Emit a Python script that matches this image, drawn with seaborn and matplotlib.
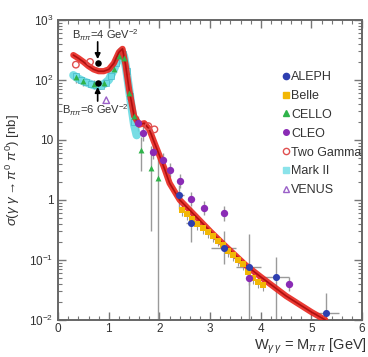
import numpy as np
import pandas as pd
import matplotlib
matplotlib.use("Agg")
import matplotlib.pyplot as plt
from matplotlib.lines import Line2D
from matplotlib.ticker import FixedLocator, FixedFormatter, LogLocator, MultipleLocator
import seaborn as sns

sns.set_style("ticks")
plt.rcParams['font.family'] = ['Liberation Sans', 'DejaVu Sans']
plt.rcParams['mathtext.fontset'] = 'custom'
plt.rcParams['mathtext.rm'] = 'Liberation Sans'
plt.rcParams['mathtext.it'] = 'Liberation Sans:italic'
plt.rcParams['mathtext.bf'] = 'Liberation Sans:bold'

# ---- data ----
red_x = [0.3, 0.4, 0.5, 0.6, 0.7, 0.8, 0.9, 1.0, 1.1, 1.2, 1.27, 1.33, 1.4, 1.5, 1.6, 1.7,
         1.8, 1.9, 2.0, 2.1, 2.2, 2.4, 2.7, 3.0, 3.3, 3.7, 4.0, 4.5, 5.0, 5.27]
red_y = [260, 230, 200, 170, 150, 140, 140, 150, 190, 290, 330, 180, 70, 25, 18, 19,
         15, 9, 5.5, 3.3, 1.9, 1.0, 0.55, 0.3, 0.17, 0.082, 0.052, 0.025, 0.0135, 0.01]

cyan_x = [0.3, 0.4, 0.5, 0.6, 0.7, 0.8, 0.9, 1.0, 1.1, 1.2, 1.25, 1.3, 1.35, 1.4, 1.45, 1.5, 1.55]
cyan_y = [120, 105, 95, 88, 82, 80, 85, 100, 150, 240, 300, 250, 140, 70, 35, 18, 12]

aleph_x = [2.39, 2.62, 3.27, 3.76, 4.30, 5.29]
aleph_y = [1.2, 0.41, 0.16, 0.076, 0.052, 0.013]
aleph_lo = [0.7, 0.2, 0.085, 0.0095, 0.0095, 0.0095]
aleph_hi = [1.8, 0.75, 0.3, 0.27, 0.11, 0.028]
aleph_xerr = [0.1, 0.1, 0.25, 0.25, 0.25, 0.25]

belle_x = [2.45, 2.55, 2.65, 2.75, 2.85, 2.95, 3.05, 3.15, 3.25, 3.35, 3.45, 3.55,
           3.65, 3.75, 3.85, 3.95, 4.05]
belle_y = [0.68, 0.58, 0.48, 0.40, 0.34, 0.29, 0.25, 0.21, 0.18, 0.14, 0.12, 0.10,
           0.085, 0.062, 0.05, 0.042, 0.038]

cello_x = [0.35, 0.5, 0.7, 0.9, 1.1, 1.2, 1.3, 1.4, 1.5, 1.64, 1.84, 1.97]
cello_y = [110, 95, 85, 90, 150, 250, 230, 60, 25, 6.8, 3.4, 2.3]
cello_lo = [90, 80, 70, 75, 125, 210, 190, 45, 18, 3.0, 0.3, 0.0095]
cello_hi = [130, 110, 100, 105, 175, 290, 270, 75, 32, 11, 8, 5]

cleo_x = [1.57, 1.67, 1.87, 2.06, 2.2, 2.4, 2.62, 2.88, 3.27, 3.76, 4.55]
cleo_y = [19, 13, 6.3, 4.6, 3.2, 2.1, 1.05, 0.74, 0.6, 0.05, 0.04]

tg_x = [0.35, 0.63, 1.78, 1.9]
tg_y = [180, 200, 17, 15]

mark2_x = [0.35, 0.45, 0.55, 0.65, 0.75, 0.85, 0.95, 1.05, 1.15, 1.22, 1.28, 1.35, 1.42, 1.5]
mark2_y = [115, 100, 92, 86, 82, 80, 90, 115, 190, 280, 270, 140, 55, 20]

venus_x = [0.95]
venus_y = [46]

b_x = [0.78, 0.78]
b_y = [190, 89]

labels = ["ALEPH", "Belle", "CELLO", "CLEO", "Two Gamma", "Mark II", "VENUS"]

# ---- figure ----
fig = plt.figure(figsize=(3.68, 3.57), dpi=100)
ax = fig.add_axes([0.158, 0.104, 0.826, 0.840])
ax.set_yscale("log")

gray = "#9a9a9a"
# error bars
ax.errorbar(aleph_x, aleph_y,
            yerr=[np.array(aleph_y) - np.array(aleph_lo), np.array(aleph_hi) - np.array(aleph_y)],
            xerr=aleph_xerr, fmt="none", ecolor=gray, elinewidth=1.0, zorder=1)
ax.errorbar(cello_x, cello_y,
            yerr=[np.array(cello_y) - np.array(cello_lo), np.array(cello_hi) - np.array(cello_y)],
            fmt="none", ecolor=gray, elinewidth=1.0, zorder=1)
ax.errorbar(cleo_x, cleo_y, yerr=[np.array(cleo_y) * 0.25, np.array(cleo_y) * 0.3],
            fmt="none", ecolor=gray, elinewidth=1.0, zorder=1)
ax.errorbar(belle_x, belle_y, yerr=[np.array(belle_y) * 0.2, np.array(belle_y) * 0.2],
            fmt="none", ecolor=gray, elinewidth=0.8, zorder=1)

# bands
sns.lineplot(x=cyan_x, y=cyan_y, ax=ax, color="#5fd8e0", lw=6, alpha=0.85, zorder=2)
sns.lineplot(x=red_x, y=red_y, ax=ax, color="#e8261e", lw=4.5, alpha=0.9, zorder=4)
sns.lineplot(x=red_x, y=red_y, ax=ax, color="#b01010", lw=1.2, zorder=5)

# markers
sns.scatterplot(x=mark2_x, y=mark2_y, ax=ax, color="#70dde6", marker="s", s=18, edgecolor="#3ab0c0", linewidth=0.4, zorder=3)
sns.scatterplot(x=cello_x, y=cello_y, ax=ax, color="#2fb34a", marker="^", s=18, linewidth=0, zorder=6)
sns.scatterplot(x=belle_x, y=belle_y, ax=ax, color="#f2b705", marker="s", s=14, linewidth=0, zorder=6)
sns.scatterplot(x=cleo_x, y=cleo_y, ax=ax, color="#8a2bb5", marker="o", s=28, linewidth=0, zorder=6)
sns.scatterplot(x=aleph_x, y=aleph_y, ax=ax, color="#2e3fb0", marker="o", s=26, linewidth=0, zorder=6)
sns.scatterplot(x=tg_x, y=tg_y, ax=ax, facecolor="none", edgecolor="#e05050", marker="o", s=22, linewidth=1.0, zorder=6)
sns.scatterplot(x=venus_x, y=venus_y, ax=ax, facecolor="none", edgecolor="#9a60c8", marker="^", s=22, linewidth=1.0, zorder=6)
sns.scatterplot(x=b_x, y=b_y, ax=ax, color="black", marker="o", s=22, linewidth=0, zorder=7)

# annotations
ax.annotate("", xy=(0.78, 200), xytext=(0.78, 480),
            arrowprops=dict(arrowstyle="-|>", color="black", lw=1.2, mutation_scale=8), zorder=8)
ax.annotate("", xy=(0.78, 85), xytext=(0.78, 40),
            arrowprops=dict(arrowstyle="-|>", color="black", lw=1.2, mutation_scale=8), zorder=8)
ax.text(0.28, 560, r"B$_{\pi\pi}$=4 GeV$^{-2}$", fontsize=8, color="#333333", va="center")
ax.text(0.08, 31, r"B$_{\pi\pi}$=6 GeV$^{-2}$", fontsize=8, color="#333333", va="center")

# axes
ax.set_xlim(0, 6)
ax.set_ylim(0.01, 1000)
ax.xaxis.set_major_locator(MultipleLocator(1))
ax.xaxis.set_minor_locator(MultipleLocator(0.2))
yt = [0.01, 0.1, 1, 10, 100, 1000]
ax.yaxis.set_major_locator(FixedLocator(yt))
ax.yaxis.set_major_formatter(FixedFormatter([r"$10^{-2}$", r"$10^{-1}$", "1", "10", r"$10^{2}$", r"$10^{3}$"]))
ax.yaxis.set_minor_locator(LogLocator(base=10, subs=np.arange(2, 10), numticks=20))
ax.tick_params(which="both", direction="in", top=True, right=True, colors="#777777",
               labelcolor="#333333", labelsize=8.5)
ax.tick_params(which="major", length=6, width=1.0)
ax.tick_params(which="minor", length=3, width=0.8)
ax.tick_params(axis="x", pad=2)
for s in ax.spines.values():
    s.set_color("#666666")
    s.set_linewidth(1.4)

ax.set_xlabel("")
ax.set_ylabel(r"$\sigma(\gamma\ \gamma \rightarrow \pi^{0}\ \pi^{0})$ [nb]", fontsize=9.5, color="#333333")
ax.yaxis.set_label_coords(-0.118, 0.5)
fig.text(0.996, 0.021, r"W$_{\gamma\,\gamma}$ = M$_{\pi\,\pi}$ [GeV]", ha="right", va="baseline",
         fontsize=10.5, color="#333333")

handles = [
    Line2D([], [], ls="none", marker="o", color="#2e3fb0", ms=4.5),
    Line2D([], [], ls="none", marker="s", color="#f2b705", ms=4.5),
    Line2D([], [], ls="none", marker="^", color="#2fb34a", ms=4.5),
    Line2D([], [], ls="none", marker="o", color="#8a2bb5", ms=4.0),
    Line2D([], [], ls="none", marker="o", mfc="none", mec="#e05050", ms=4.5, mew=1.0),
    Line2D([], [], ls="none", marker="s", color="#8be3ea", ms=4.5),
    Line2D([], [], ls="none", marker="^", mfc="none", mec="#9a60c8", ms=4.5, mew=1.0),
]
leg = fig.legend(handles, labels, loc="upper left", bbox_to_anchor=(282 / 368, 1 - 71 / 357),
                 frameon=False, fontsize=9, handlelength=0.6, handletextpad=0.15,
                 labelspacing=0.55, borderpad=0, borderaxespad=0)
for t in leg.get_texts():
    t.set_color("#333333")

fig.savefig("out.png", dpi=100)
